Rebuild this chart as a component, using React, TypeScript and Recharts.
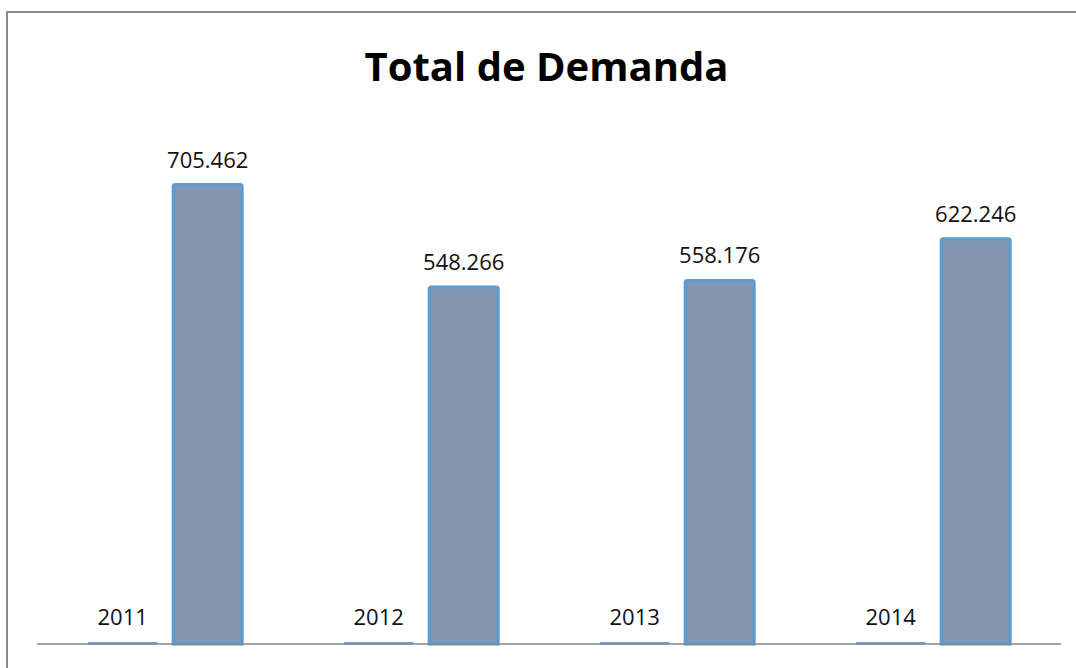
import { type JSX } from "react";
import { BarChart, Bar, XAxis, YAxis, LabelList } from "recharts";

const YEARS = ["2011", "2012", "2013", "2014"];
const YEAR_VALUES = [2011, 2012, 2013, 2014];
const DEMAND = [705462, 548266, 558176, 622246];

const TITLE = "Total de Demanda";

const BAR_FILL = "#8497B0";
const BAR_STROKE = "#5B9BD5";
const FONT = "'Open Sans', 'DejaVu Sans', sans-serif";

// thousands separator with a dot, like the source sheet
const formatDots = (value: number): string =>
  String(Math.round(value)).replace(/\B(?=(\d{3})+(?!\d))/g, ".");

const chartData = YEARS.map((year, i) => ({
  year,
  yearValue: YEAR_VALUES[i],
  demand: DEMAND[i],
}));

export default function App(): JSX.Element {
  return (
    <div style={{ position: "absolute", left: 0, top: 0, width: 1076, height: 668, background: "#fff", overflow: "hidden" }}>
      <div
        style={{
          position: "absolute",
          left: 6,
          top: 11,
          width: 1100,
          height: 700,
          borderLeft: "2px solid #8c8c8c",
          borderTop: "2px solid #8c8c8c",
        }}
      />
      <div
        style={{
          position: "absolute",
          left: 0,
          top: 34,
          width: 1093,
          textAlign: "center",
          fontFamily: FONT,
          fontWeight: 700,
          fontSize: 40,
          lineHeight: "64px",
          color: "#000",
        }}
      >
        {TITLE}
      </div>
      <div style={{ position: "absolute", left: 0, top: 0 }}>
        <BarChart
          width={1076}
          height={668}
          data={chartData}
          margin={{ top: 123, right: 15, left: 37, bottom: 23 }}
          barCategoryGap="20%"
          barGap={16}
        >
          <YAxis hide domain={[0, 800000]} />
          <Bar dataKey="yearValue" fill={BAR_FILL} stroke={BAR_STROKE} strokeWidth={1} isAnimationActive={false}>
            <LabelList dataKey="yearValue" position="top" offset={18} fontSize={22} fontFamily={FONT} fill="#111" formatter={(v: number) => String(v)} />
          </Bar>
          <Bar dataKey="demand" fill={BAR_FILL} stroke={BAR_STROKE} strokeWidth={3} radius={[2, 2, 0, 0]} isAnimationActive={false}>
            <LabelList dataKey="demand" position="top" offset={17} fontSize={22} fontFamily={FONT} fill="#111" formatter={(v: number) => formatDots(v)} />
          </Bar>
          <XAxis dataKey="year" tick={false} tickLine={false} height={1} axisLine={{ stroke: "#868686", strokeWidth: 1.5 }} />
        </BarChart>
      </div>
    </div>
  );
}
